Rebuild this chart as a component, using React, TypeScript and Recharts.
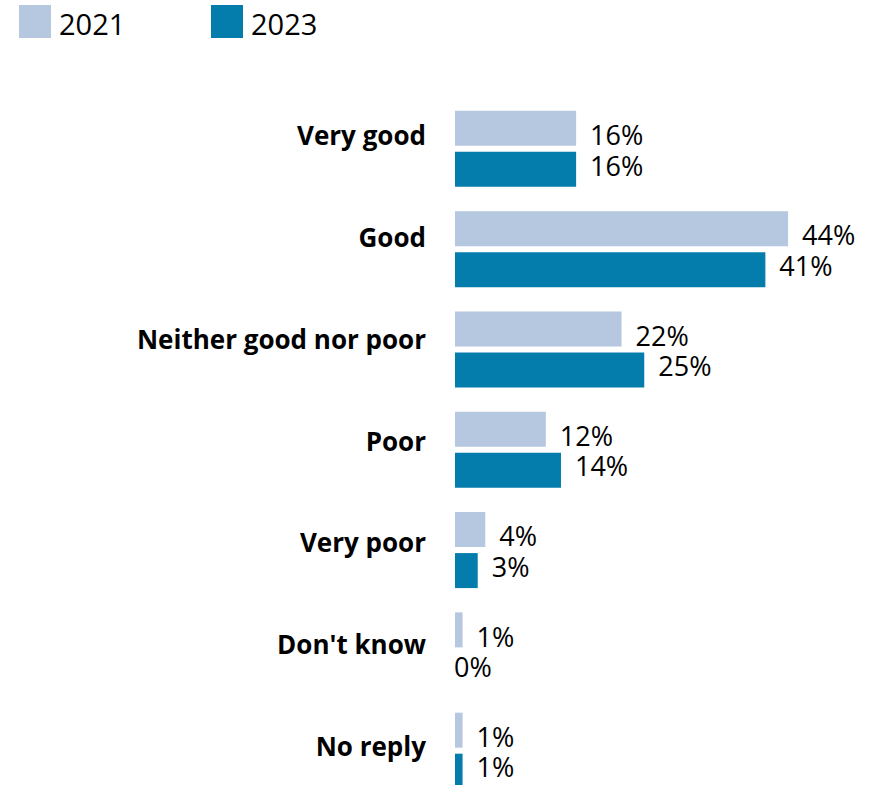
import { BarChart, Bar, XAxis, YAxis, Legend, LabelList } from "recharts";

const categories = ["Very good", "Good", "Neither good nor poor", "Poor", "Very poor", "Don't know", "No reply"];
const values2021 = [16, 44, 22, 12, 4, 1, 1];
const values2023 = [16, 41, 25, 14, 3, 0, 1];

const data = categories.map((category, i) => ({
  category,
  y2021: values2021[i],
  y2023: values2023[i],
}));

const FONT = "'Open Sans', 'Noto Sans', sans-serif";
const LEGEND_HEIGHT = 44;

function CategoryTick({ x, y, payload }: any) {
  return (
    <text x={x} y={y} dy="0.36em" textAnchor="end" fontSize={26} fontWeight={700} fill="#000" fontFamily={FONT}>
      {payload.value}
    </text>
  );
}

function valueLabel(shift: number) {
  return (props: any) => {
    const { x, y, width, height, value } = props;
    const tx = value === 0 ? x - 1 : x + width + 14;
    return (
      <text x={tx} y={y + height / 2 + shift} dy="0.36em" fontSize={27} fill="#000" fontFamily={FONT}>
        {`${value}%`}
      </text>
    );
  };
}

function LegendContent({ payload }: any) {
  return (
    <div style={{ position: "relative", width: 875, height: LEGEND_HEIGHT, fontFamily: FONT }}>
      {(payload || []).map((entry: any, i: number) => (
        <div key={entry.value}>
          <div
            style={{ position: "absolute", left: 19 + 192 * i, top: 5, width: 32, height: 33, background: entry.color }}
          />
          <span style={{ position: "absolute", left: 59 + 192 * i, top: 9, fontSize: 29, lineHeight: "29px", color: "#000" }}>
            {entry.value}
          </span>
        </div>
      ))}
    </div>
  );
}

export default function App() {
  return (
    <div style={{ position: "absolute", left: 0, top: 0, width: 875, height: 785, overflow: "hidden", background: "#fff" }}>
      <BarChart
        width={875}
        height={802}
        data={data}
        layout="vertical"
        margin={{ top: 84.55 - LEGEND_HEIGHT, right: 41.5, bottom: 1, left: 0 }}
        barGap={6}
      >
        <XAxis type="number" domain={[0, 50]} hide />
        <YAxis yAxisId="bars" type="category" dataKey="category" hide width={0} padding={{ top: 14.3, bottom: 0 }} />
        <YAxis
          yAxisId="labels"
          type="category"
          dataKey="category"
          width={455}
          axisLine={false}
          tickLine={false}
          tickSize={0}
          tickMargin={29}
          interval={0}
          padding={{ top: 0, bottom: 3.15 }}
          tick={<CategoryTick />}
        />
        <Legend
          verticalAlign="top"
          align="left"
          content={<LegendContent />}
          wrapperStyle={{ top: 0, left: 0, width: 875, height: LEGEND_HEIGHT }}
        />
        <Bar yAxisId="bars" dataKey="y2021" name="2021" fill="#b6c7e0" barSize={35} isAnimationActive={false}>
          <LabelList dataKey="y2021" content={valueLabel(7)} />
        </Bar>
        <Bar
          yAxisId="bars"
          dataKey="y2023"
          name="2023"
          fill="#047dad"
          barSize={35}
          minPointSize={0.01}
          isAnimationActive={false}
        >
          <LabelList dataKey="y2023" content={valueLabel(-3.5)} />
        </Bar>
      </BarChart>
    </div>
  );
}
